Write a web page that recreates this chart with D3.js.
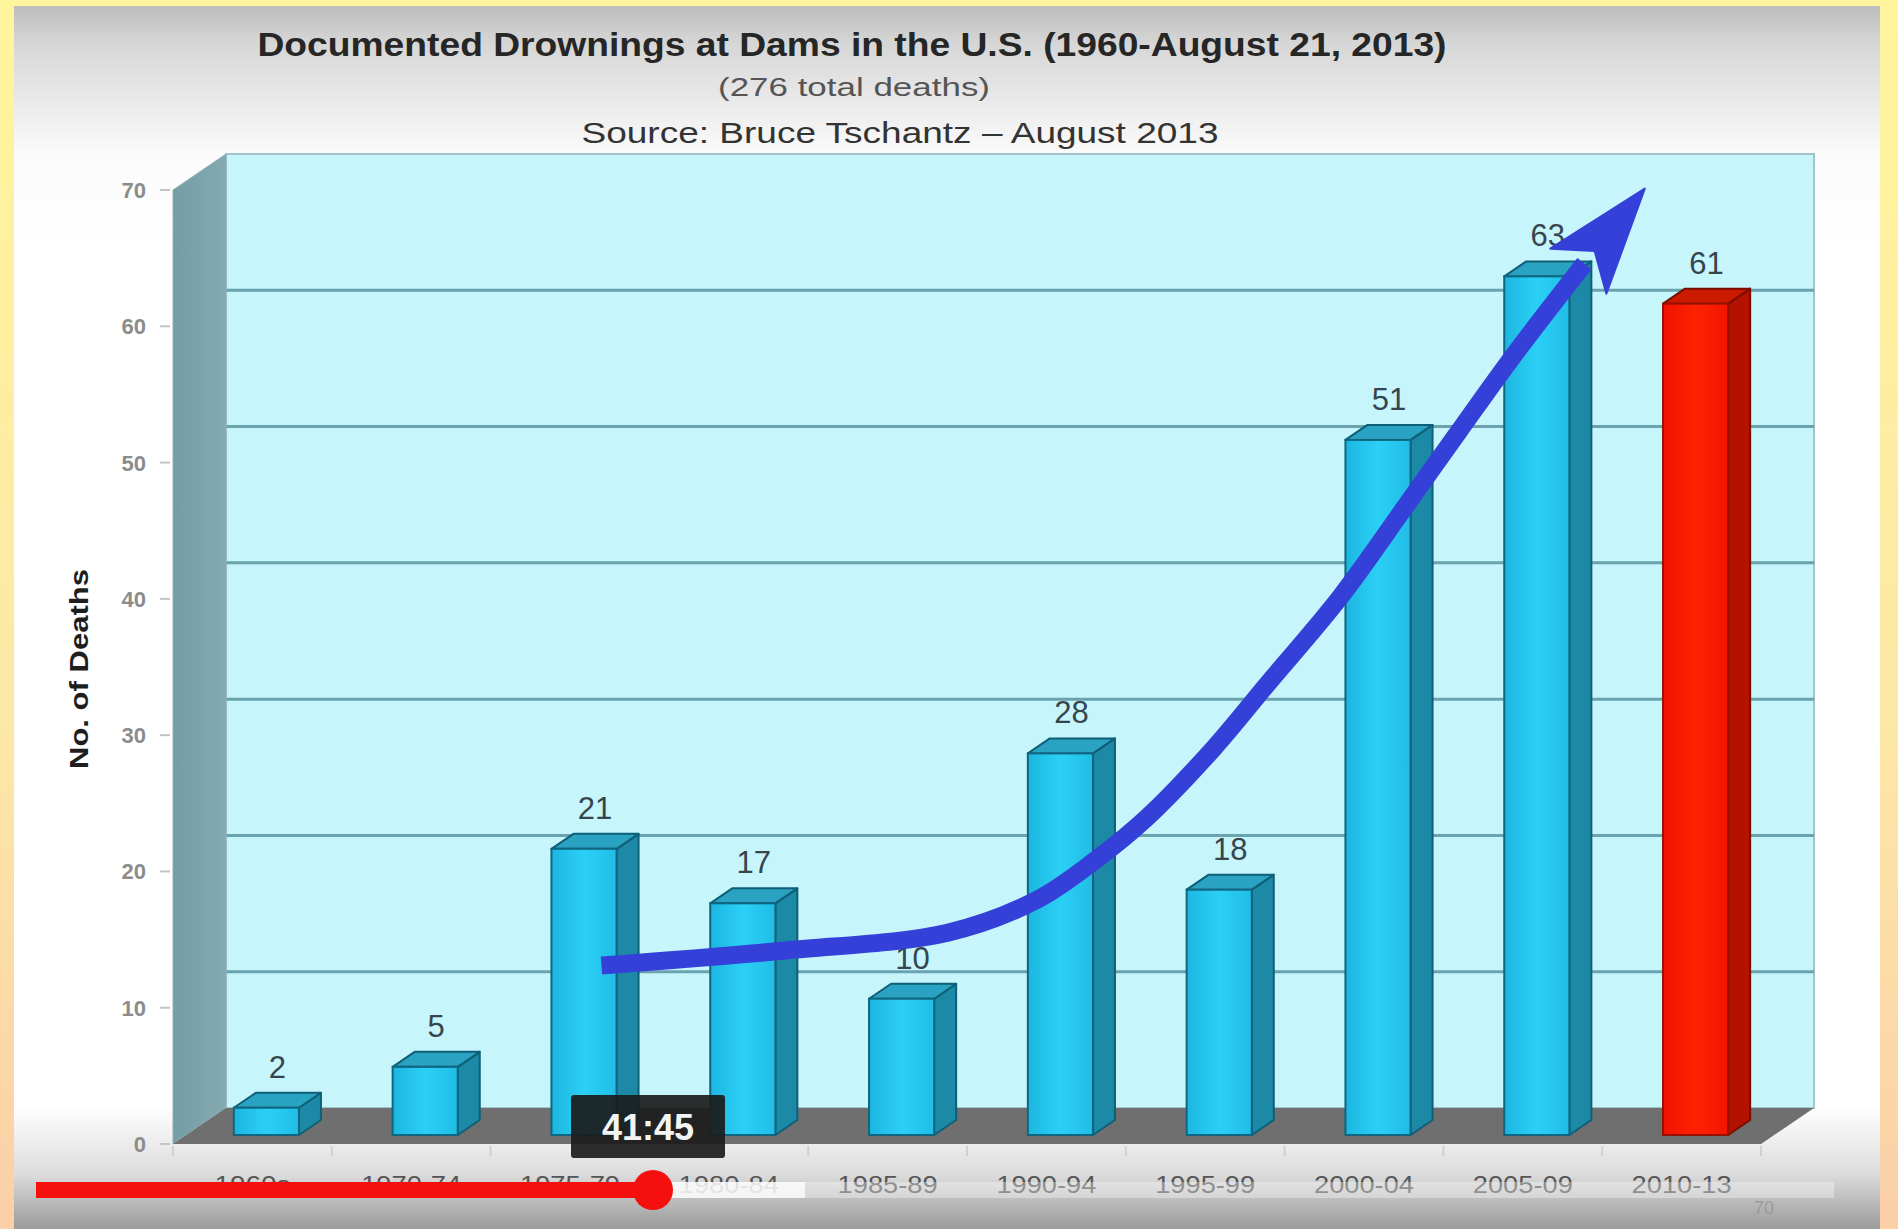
<!DOCTYPE html>
<html>
<head>
<meta charset="utf-8">
<script src="https://cdn.jsdelivr.net/npm/d3@7"></script>
<style>
  html, body { margin: 0; padding: 0; background: #fff; }
  svg { display: block; }
</style>
</head>
<body>
<svg id="chart" width="1898" height="1229"></svg>
<script>
// chart data
const categories = ["1960s", "1970-74", "1975-79", "1980-84", "1985-89",
                    "1990-94", "1995-99", "2000-04", "2005-09", "2010-13"];
const deaths = [2, 5, 21, 17, 10, 28, 18, 51, 63, 61];
const highlighted = ["2010-13"];
const yTicks = [0, 10, 20, 30, 40, 50, 60, 70];

const titleText = "Documented Drownings at Dams in the U.S. (1960-August 21, 2013)";
const subtitleText = "(276 total deaths)";
const sourceText = "Source: Bruce Tschantz \u2013 August 2013";
const yTitle = "No. of Deaths";

// hand drawn trend arrow, [category index, deaths]
const trendArrow = [[2.11, 13.1], [3.27, 14.2], [4.29, 15.5], [4.85, 17.9],
                    [5.24, 21.0], [5.55, 24.0], [5.97, 29.1], [6.30, 33.7],
                    [6.76, 40.1], [7.18, 46.9], [7.51, 52.3], [7.85, 57.8],
                    [8.30, 64.6]];
const arrowTip = [8.68, 70.1];

// video player overlay
const timeStamp = "41:45";

// ---- layout ----
const W = 1898, H = 1229;
const wallDx = 53, wallDy = -36;   // depth of the 3d walls
const barDx = 22, barDy = -15;     // depth of each bar
const barLift = 9;                 // bars sit a little behind the front edge

const svg = d3.select("#chart");
const defs = svg.append("defs");

function grad(id, stops, vertical) {
        var g = defs.append("linearGradient").attr("id", id)
                .attr("x1", 0).attr("y1", 0)
                .attr("x2", vertical ? 0 : 1).attr("y2", vertical ? 1 : 0);
        stops.forEach(function(s) {
                g.append("stop").attr("offset", s[0]).attr("stop-color", s[1]);
        });
}
grad("frame", [[0, "#fff59c"], [0.6, "#fde7a6"], [1, "#fbcfa8"]], true);
grad("panel", [[0, "#bdbdbd"], [0.03, "#d6d6d6"], [0.12, "#fbfbfb"], [0.2, "#ffffff"],
               [0.9, "#ffffff"], [0.955, "#dcdcdc"], [1, "#9a9a9a"]], true);
grad("sideWall", [[0, "#759da6"], [1, "#84aab2"]], false);
grad("barBlue", [[0, "#1cb6e0"], [0.5, "#2bd0f6"], [1, "#20bde6"]], false);
grad("barRed", [[0, "#f01200"], [0.5, "#ff2200"], [1, "#f21500"]], false);

svg.append("rect").attr("width", W).attr("height", H).attr("fill", "url(#frame)");
svg.append("rect").attr("x", 14).attr("y", 6).attr("width", 1866).attr("height", H - 6)
        .attr("fill", "url(#panel)");

// scales
const y = d3.scaleLinear().domain([0, 70]).range([1144, 190]);
const xFront = d3.scaleBand().domain(categories).range([173, 1761]);
const xBar = d3.scaleBand().domain(categories).range([187, 1775])
        .paddingInner(0.59).paddingOuter(0.295);

const x0 = y.range()[0];
const left = xFront.range()[0], right = xFront.range()[1];

// back wall
svg.append("rect")
        .attr("x", left + wallDx).attr("y", y(70) + wallDy)
        .attr("width", right - left).attr("height", y(0) - y(70))
        .attr("fill", "#c6f5fc").attr("stroke", "#a3c4ca").attr("stroke-width", 2);

// grid lines on the back wall
svg.append("g").selectAll("line")
        .data(yTicks.filter(function(d) { return d > 0 && d < 70; }))
        .join("line")
        .attr("x1", left + wallDx).attr("x2", right + wallDx)
        .attr("y1", function(d) { return y(d) + wallDy; })
        .attr("y2", function(d) { return y(d) + wallDy; })
        .attr("stroke", "#6aa2ad").attr("stroke-width", 3);

// side wall
svg.append("polygon")
        .attr("points", [[left, y(70)], [left + wallDx, y(70) + wallDy],
                         [left + wallDx, y(0) + wallDy], [left, y(0)]].join(" "))
        .attr("fill", "url(#sideWall)").attr("stroke", "#8fb0b7").attr("stroke-width", 1);

// floor
svg.append("polygon")
        .attr("points", [[left, x0], [right, x0], [right + wallDx, x0 + wallDy],
                         [left + wallDx, x0 + wallDy]].join(" "))
        .attr("fill", "#6f6f6f");

// y axis
const yAxis = svg.append("g");
yAxis.selectAll("line").data(yTicks).join("line")
        .attr("x1", 160).attr("x2", 170)
        .attr("y1", function(d) { return y(d); }).attr("y2", function(d) { return y(d); })
        .attr("stroke", "#c4c4c4").attr("stroke-width", 2);
yAxis.selectAll("text").data(yTicks).join("text")
        .attr("x", 146).attr("y", function(d) { return y(d) + 8; })
        .attr("text-anchor", "end")
        .attr("font-family", "Liberation Sans, Arial, sans-serif")
        .attr("font-size", "22px").attr("font-weight", "bold")
        .attr("fill", "#8c8c8c")
        .text(function(d) { return d; });

svg.append("text")
        .attr("transform", "translate(88," + 669 + ") rotate(-90)")
        .attr("text-anchor", "middle")
        .attr("font-family", "Liberation Sans, Arial, sans-serif")
        .attr("font-size", "25px").attr("font-weight", "bold")
        .attr("fill", "#1e1e1e")
        .attr("textLength", 200).attr("lengthAdjust", "spacingAndGlyphs")
        .text(yTitle);

// x axis ticks and labels
svg.append("g").selectAll("line")
        .data(categories.concat(["end"]))
        .join("line")
        .attr("x1", function(d, i) { return left + i * xFront.step(); })
        .attr("x2", function(d, i) { return left + i * xFront.step(); })
        .attr("y1", x0 + 2).attr("y2", x0 + 12)
        .attr("stroke", "#d0d0d0").attr("stroke-width", 2);

svg.append("g").selectAll("text").data(categories).join("text")
        .attr("x", function(d) { return xFront(d) + xFront.bandwidth() / 2; })
        .attr("y", 1193)
        .attr("text-anchor", "middle")
        .attr("font-family", "Liberation Sans, Arial, sans-serif")
        .attr("font-size", "23px")
        .attr("fill", "#555")
        .attr("textLength", function(d) { return d.length > 5 ? 100 : 76; })
        .attr("lengthAdjust", "spacingAndGlyphs")
        .text(function(d) { return d; });

// bars
const bw = xBar.bandwidth();
const bars = svg.append("g").selectAll("g")
        .data(categories.map(function(c, i) {
                return { cat: c, value: deaths[i], hot: highlighted.indexOf(c) >= 0 };
        }))
        .join("g");

function barTop(d) { return y(d.value) - barLift; }
function barBase() { return y(0) - barLift; }

bars.append("polygon") // side
        .attr("points", function(d) {
                var xr = xBar(d.cat) + bw, t = barTop(d), b = barBase();
                return [[xr, t], [xr + barDx, t + barDy], [xr + barDx, b + barDy], [xr, b]].join(" ");
        })
        .attr("fill", function(d) { return d.hot ? "#b31200" : "#1c89a6"; })
        .attr("stroke", function(d) { return d.hot ? "#7a0c00" : "#0f5f76"; })
        .attr("stroke-width", 2).attr("stroke-linejoin", "round");

bars.append("polygon") // top
        .attr("points", function(d) {
                var xl = xBar(d.cat), t = barTop(d);
                return [[xl, t], [xl + barDx, t + barDy], [xl + bw + barDx, t + barDy], [xl + bw, t]].join(" ");
        })
        .attr("fill", function(d) { return d.hot ? "#cc1a00" : "#2aa2c2"; })
        .attr("stroke", function(d) { return d.hot ? "#7a0c00" : "#0f5f76"; })
        .attr("stroke-width", 2).attr("stroke-linejoin", "round");

bars.append("rect") // front
        .attr("x", function(d) { return xBar(d.cat); })
        .attr("y", barTop)
        .attr("width", bw)
        .attr("height", function(d) { return barBase() - barTop(d); })
        .attr("fill", function(d) { return d.hot ? "url(#barRed)" : "url(#barBlue)"; })
        .attr("stroke", function(d) { return d.hot ? "#9a1000" : "#0f6680"; })
        .attr("stroke-width", 2);

bars.append("text") // value labels
        .attr("x", function(d) { return xBar(d.cat) + bw / 2 + barDx / 2; })
        .attr("y", function(d) { return barTop(d) - 30; })
        .attr("text-anchor", "middle")
        .attr("font-family", "Liberation Sans, Arial, sans-serif")
        .attr("font-size", "31px")
        .attr("fill", "#36454d")
        .text(function(d) { return d.value; });

// trend arrow, positioned in category / value space
const firstCenter = xBar(categories[0]) + bw / 2;
function ax(p) { return firstCenter + p[0] * xBar.step(); }
function ay(p) { return y(p[1]); }

svg.append("path")
        .attr("d", d3.line().x(ax).y(ay).curve(d3.curveCatmullRom)(trendArrow))
        .attr("fill", "none").attr("stroke", "#3540d8")
        .attr("stroke-width", 18).attr("stroke-linecap", "butt");

(function() {
        var last = trendArrow[trendArrow.length - 1];
        var tx = ax(arrowTip), ty = ay(arrowTip);
        var sx = ax(last), sy = ay(last);
        var len = Math.hypot(tx - sx, ty - sy);
        var ux = (tx - sx) / len, uy = (ty - sy) / len;
        var nx = -uy, ny = ux;
        function pt(a, b) { return [tx + ux * a + nx * b, ty + uy * a + ny * b]; }
        svg.append("polygon")
                .attr("points", [pt(0, 0), pt(-106, 36), pt(-80, 0), pt(-106, -36)].join(" "))
                .attr("fill", "#3540d8").attr("stroke", "#3540d8")
                .attr("stroke-width", 2).attr("stroke-linejoin", "round");
})();

// titles
svg.append("text")
        .attr("x", 852).attr("y", 56).attr("text-anchor", "middle")
        .attr("font-family", "Liberation Sans, Arial, sans-serif")
        .attr("font-size", "34px").attr("font-weight", "bold").attr("fill", "#262626")
        .attr("textLength", 1189).attr("lengthAdjust", "spacingAndGlyphs")
        .text(titleText);
svg.append("text")
        .attr("x", 854).attr("y", 96).attr("text-anchor", "middle")
        .attr("font-family", "Liberation Sans, Arial, sans-serif")
        .attr("font-size", "26px").attr("fill", "#555")
        .attr("textLength", 272).attr("lengthAdjust", "spacingAndGlyphs")
        .text(subtitleText);
svg.append("text")
        .attr("x", 900).attr("y", 143).attr("text-anchor", "middle")
        .attr("font-family", "Liberation Sans, Arial, sans-serif")
        .attr("font-size", "30px").attr("fill", "#333")
        .attr("textLength", 637).attr("lengthAdjust", "spacingAndGlyphs")
        .text(sourceText);

svg.append("text")
        .attr("x", 1764).attr("y", 1214).attr("text-anchor", "middle")
        .attr("font-family", "Liberation Sans, Arial, sans-serif")
        .attr("font-size", "18px").attr("fill", "#9a9a9a")
        .text("70");

// video player overlay
const player = svg.append("g");
player.append("rect").attr("x", 36).attr("y", 1182).attr("width", 1798).attr("height", 16)
        .attr("fill", "#ffffff").attr("opacity", 0.35);
player.append("rect").attr("x", 653).attr("y", 1182).attr("width", 152).attr("height", 16)
        .attr("fill", "#ffffff").attr("opacity", 0.75);
player.append("rect").attr("x", 36).attr("y", 1182).attr("width", 617).attr("height", 16)
        .attr("fill", "#f5100e");
player.append("circle").attr("cx", 653).attr("cy", 1190).attr("r", 20).attr("fill", "#f5100e");

player.append("rect").attr("x", 571).attr("y", 1095).attr("width", 154).attr("height", 63)
        .attr("rx", 3).attr("fill", "#1b1b1b").attr("opacity", 0.92);
player.append("text")
        .attr("x", 648).attr("y", 1140).attr("text-anchor", "middle")
        .attr("font-family", "Liberation Sans, Arial, sans-serif")
        .attr("font-size", "36px").attr("font-weight", "bold").attr("fill", "#f4f4f4")
        .text(timeStamp);
</script>
</body>
</html>
